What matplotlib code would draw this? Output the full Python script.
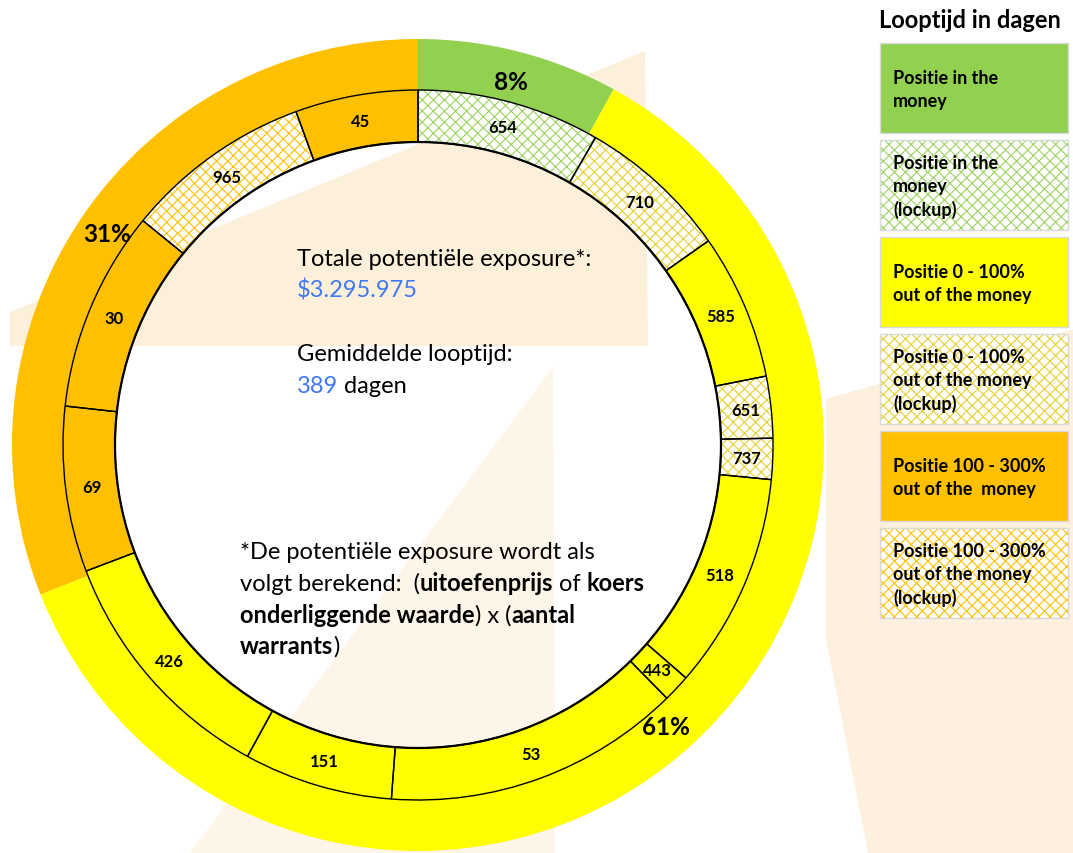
import matplotlib
matplotlib.use('Agg')
import matplotlib.pyplot as plt
from matplotlib.patches import Rectangle, Circle, Polygon

plt.rcParams['font.family'] = ['Lato', 'DejaVu Sans']
plt.rcParams['hatch.linewidth'] = 0.8

# outer ring: share of total exposure per category
outer_labels = ['8%', '61%', '31%']
outer_share = [8, 61, 31]
outer_colors = ['#92D050', '#FFFF00', '#FFC000']

# inner ring: positions, label = looptijd in dagen, share
inner_days = ['654', '710', '585', '651', '737', '518', '443', '53', '151', '426', '69', '30', '965', '45']
inner_share = [30.0, 24.9, 23.9, 10.1, 6.7, 35.4, 4.5, 48.8, 24.4, 40.5, 27.1, 32.9, 30.7, 20.1]
inner_group = [0, 1, 1, 1, 1, 1, 1, 1, 1, 1, 2, 2, 2, 2]
inner_lockup = [True, True, False, True, True, False, False, False, False, False, False, False, True, False]

hatch_colors = ['#9BD35F', '#E6CF30', '#FFC000']

legend_title = 'Looptijd in dagen'
legend_labels = ['Positie in the\nmoney',
                 'Positie in the\nmoney\n(lockup)',
                 'Positie 0 - 100%\nout of the money',
                 'Positie 0 - 100%\nout of the money\n(lockup)',
                 'Positie 100 - 300%\nout of the  money',
                 'Positie 100 - 300%\nout of the money\n(lockup)']
legend_group = [0, 0, 1, 1, 2, 2]
legend_lockup = [False, True, False, True, False, True]

total_exposure = '$3.295.975'
avg_days = '389'

# geometry (pixels, y down)
W, H = 1073, 854
cx, cy = 418, 446
r_out, w_out = 406, 51
r_in, w_in = 355, 52
blue = '#3F78F2'

fig = plt.figure(figsize=(W / 100, H / 100), dpi=100)
ax = fig.add_axes([0, 0, 1, 1])

# faint watermark in the background
watermark = [
    ([(645, 52), (648, 347), (10, 347), (10, 313)], 0.75),
    ([(553, 368), (190, 854), (555, 854)], 0.45),
    ([(826, 400), (1073, 330), (1073, 854), (868, 854), (826, 640)], 0.7),
]
for shape, a in watermark:
    ax.add_patch(Polygon(shape, closed=True, facecolor='#FDEBD0', edgecolor='none', alpha=a, zorder=0))

# outer ring
wedges, texts = ax.pie(outer_share, radius=r_out, center=(cx, cy), startangle=-90, counterclock=True,
                       colors=outer_colors, labels=outer_labels, labeldistance=0.925,
                       wedgeprops=dict(width=w_out, linewidth=0),
                       textprops=dict(fontsize=17.5, fontweight='bold'))
for t in texts:
    t.set_ha('center')

# inner ring, fill + hatch
wedges, texts = ax.pie(inner_share, radius=r_in, center=(cx, cy), startangle=-90, counterclock=True,
                       labels=inner_days, labeldistance=0.927,
                       wedgeprops=dict(width=w_in, linewidth=0),
                       textprops=dict(fontsize=12, fontweight='bold'))
for wdg, g, lk in zip(wedges, inner_group, inner_lockup):
    if lk:
        wdg.set_facecolor('white')
        wdg.set_edgecolor(hatch_colors[g])
        wdg.set_hatch('xxx')
    else:
        wdg.set_facecolor(outer_colors[g])
for t in texts:
    t.set_ha('center')
    t.set_zorder(5)

# inner ring, black outlines
ax.pie(inner_share, radius=r_in, center=(cx, cy), startangle=-90, counterclock=True,
       wedgeprops=dict(width=w_in, fill=False, edgecolor='black', linewidth=1.0))
ax.add_patch(Circle((cx, cy), r_in - w_in, fill=False, edgecolor='black', linewidth=1.6, zorder=4))


def rich_line(x, y, parts, size):
    s, wt, col = parts[0]
    t = ax.text(x, y, s, fontsize=size, fontweight=wt, color=col, va='baseline', ha='left')
    for s, wt, col in parts[1:]:
        t = ax.annotate(s, xy=(1, 0), xycoords=t, fontsize=size, fontweight=wt, color=col,
                        va='bottom', ha='left')


fs = 17
rich_line(297, 266, [('Totale potentiële exposure*:', 'normal', 'black')], fs)
rich_line(297, 298, [(total_exposure, 'normal', blue)], fs)
rich_line(297, 361, [('Gemiddelde looptijd:', 'normal', 'black')], fs)
rich_line(297, 393, [(avg_days, 'normal', blue), (' dagen', 'normal', 'black')], fs)

rich_line(240, 559, [('*De potentiële exposure wordt als', 'normal', 'black')], fs)
rich_line(240, 591, [('volgt berekend:  (', 'normal', 'black'), ('uitoefenprijs', 'bold', 'black'),
                     (' of ', 'normal', 'black'), ('koers', 'bold', 'black')], fs)
rich_line(240, 623, [('onderliggende waarde', 'bold', 'black'), (') x (', 'normal', 'black'),
                     ('aantal', 'bold', 'black')], fs)
rich_line(240, 654, [('warrants', 'bold', 'black'), (')', 'normal', 'black')], fs)

# legend boxes
ax.text(879, 20, legend_title, fontsize=17, fontweight='bold', va='center', ha='left')
for i, (lab, g, lk) in enumerate(zip(legend_labels, legend_group, legend_lockup)):
    y0 = 44 + i * 97
    if lk:
        ax.add_patch(Rectangle((880, y0), 188, 90, facecolor='white', edgecolor=hatch_colors[g],
                               hatch='xxx', linewidth=0, zorder=2))
        ax.add_patch(Rectangle((880, y0), 188, 90, fill=False, edgecolor='#D9D9D9', linewidth=1, zorder=3))
    else:
        ax.add_patch(Rectangle((880, y0), 188, 90, facecolor=outer_colors[g], edgecolor='#D9D9D9',
                               linewidth=1, zorder=2))
    ax.text(893, y0 + 46, lab, fontsize=13, fontweight='bold', va='center', ha='left',
            linespacing=1.4, zorder=4)

ax.set_xlim(0, W)
ax.set_ylim(H, 0)
ax.set_aspect('auto')
ax.axis('off')

fig.savefig('out.png', dpi=100)
